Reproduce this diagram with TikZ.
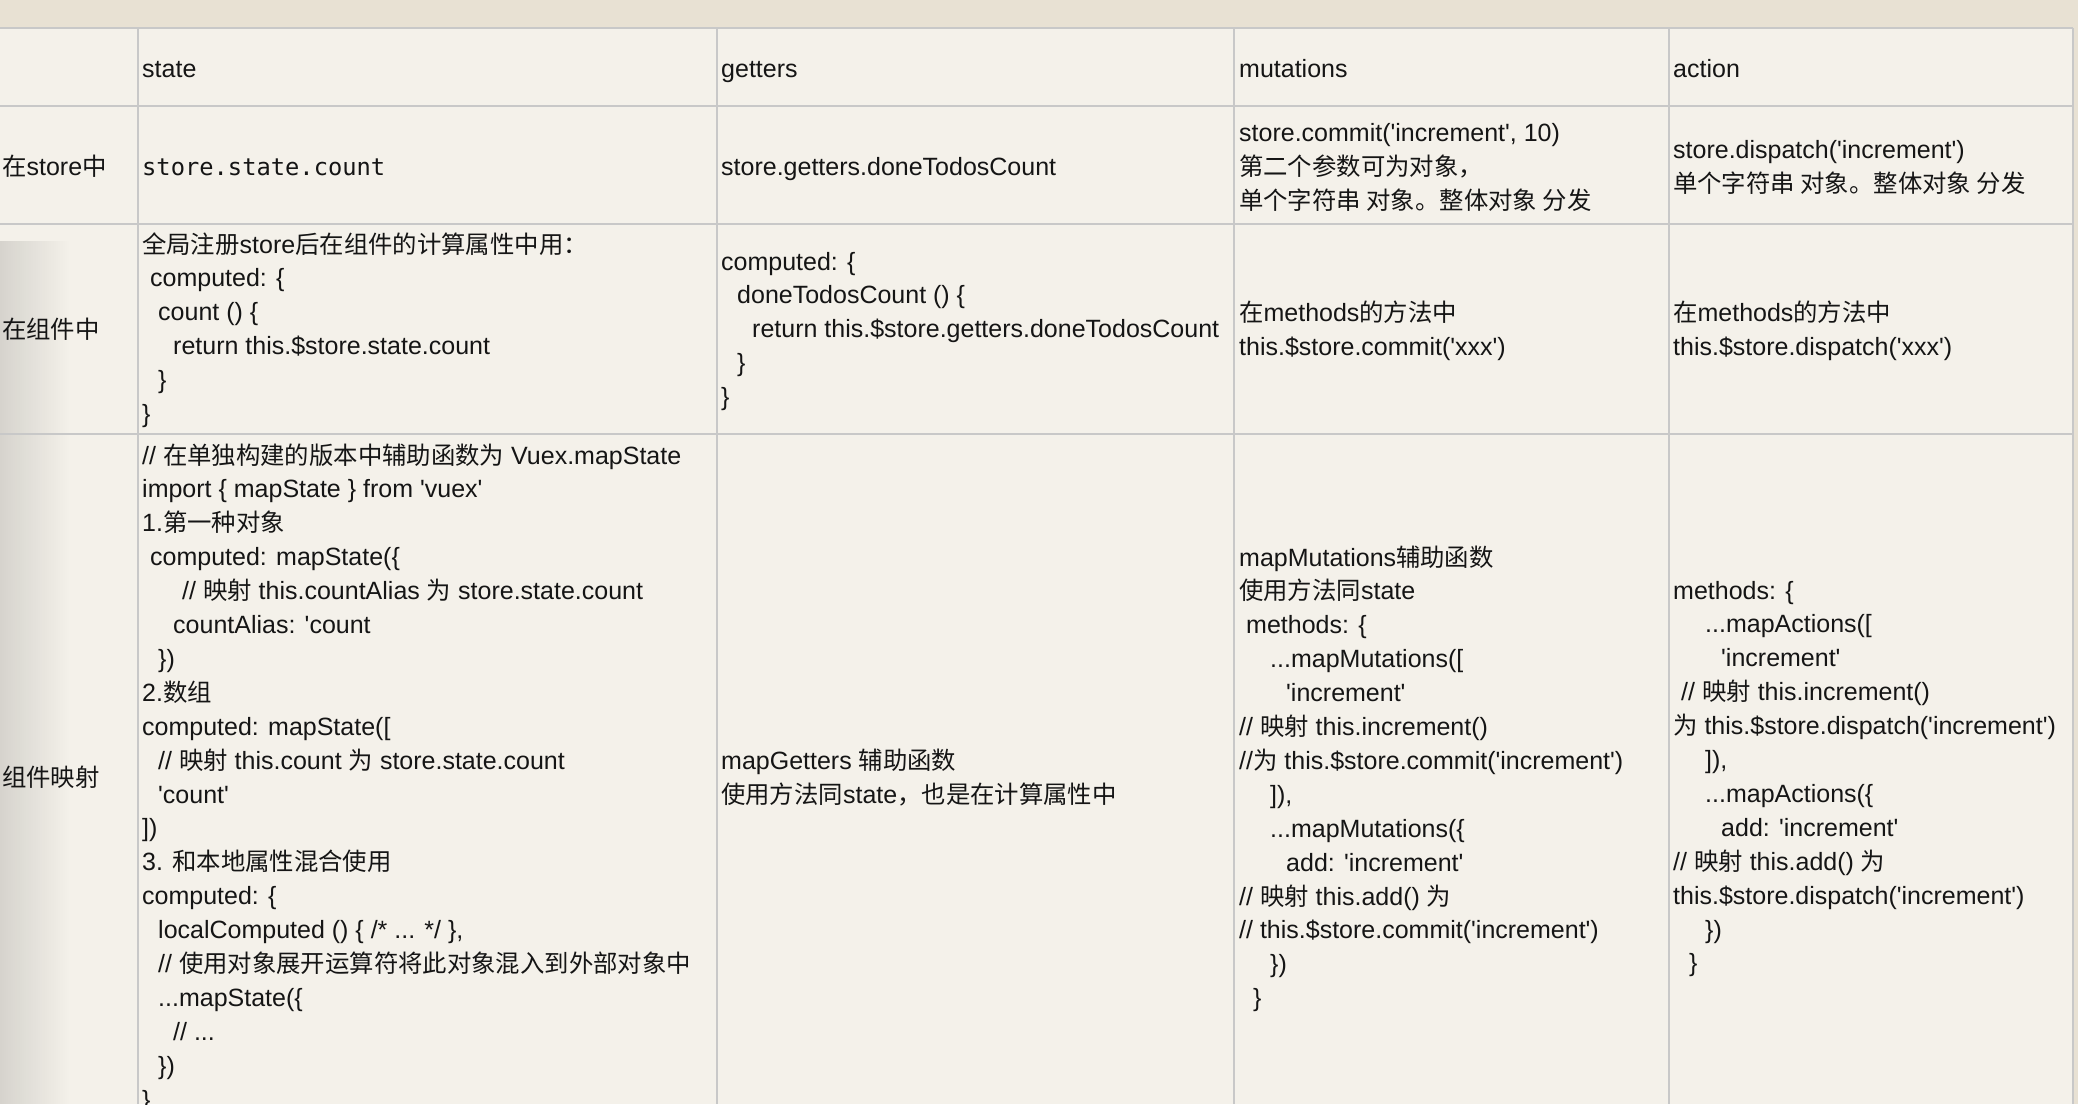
\documentclass[tikz,border=0pt]{standalone}
\usepackage{fontspec}
\setmainfont{Liberation Sans}[Ligatures=TeXOff]
\newfontfamily\cjk{Noto Sans CJK SC}[Scale=0.975]
\newfontfamily\mono{DejaVu Sans Mono}[Scale=0.95]
\usetikzlibrary{fadings}
\newcommand\zh[1]{{\cjk #1}}
\newcommand\hs[1]{\hspace*{#1pt}}
\definecolor{bandc}{HTML}{E8E1D3}
\definecolor{cellc}{HTML}{F4F1EA}
\definecolor{gridc}{HTML}{C8C8C8}
\definecolor{txtc}{HTML}{151515}
\tikzfading[name=fadeoutright, left color=transparent!0, right color=transparent!100]
\begin{document}
\begin{tikzpicture}[x=1pt,y=-1pt,
  cell/.style={anchor=base west, inner sep=0pt, align=left, text=txtc,
    font=\fontsize{25}{33.9}\selectfont},
  gridline/.style={draw=gridc, line width=2pt}]
\useasboundingbox (0,0) rectangle (2078,1104);
\fill[bandc] (0,0) rectangle (2078,1104);
\fill[cellc] (0,28) rectangle (2073,1104);
\fill[black, opacity=0.12, path fading=fadeoutright] (0,240) rectangle (70,1104);
% grid
\foreach \yy in {28,106,224,434} \draw[gridline] (0,\yy) -- (2073,\yy);
\foreach \xx in {138,717,1234,1669,2073} \draw[gridline] (\xx,28) -- (\xx,1104);
% header (anchors are at the baseline of the LAST line of each node)
\node[cell] (hs) at (142,77) {state};
\node[cell] (hg) at (721,77) {getters};
\node[cell] (hm) at (1239,77) {mutations};
\node[cell] (ha) at (1673,77) {action};
% row: in store
\node[cell] (l1) at (2,175) {\zh{在}store\zh{中}};
\node[cell] (s1) at (142,175) {\mono store.state.count};
\node[cell] (g1) at (721,175) {store.getters.doneTodosCount};
\node[cell] (m1) at (1239,209) {store.commit('increment', 10)\\
\zh{第二个参数可为对象，}\\
\zh{单个字符串 对象。整体对象 分发}};
\node[cell] (a1) at (1673,192) {store.dispatch('increment')\\
\zh{单个字符串 对象。整体对象 分发}};
% row: in component
\node[cell] (l2) at (2,338) {\zh{在组件中}};
\node[cell] (s2) at (142,422.5) {\zh{全局注册}store\zh{后在组件的计算属性中用：}\\
\hs{8}computed: \{\\
\hs{16}count () \{\\
\hs{31}return this.\$store.state.count\\
\hs{16}\}\\
\}};
\node[cell] (g2) at (721,405.6) {computed: \{\\
\hs{16}doneTodosCount () \{\\
\hs{31}return this.\$store.getters.doneTodosCount\\
\hs{16}\}\\
\}};
\node[cell] (m2) at (1239,355) {\zh{在}methods\zh{的方法中}\\
this.\$store.commit('xxx')};
\node[cell] (a2) at (1673,355) {\zh{在}methods\zh{的方法中}\\
this.\$store.dispatch('xxx')};
% row: mapping
\node[cell] (l3) at (2,786) {\zh{组件映射}};
\node[cell] (s3) at (142,1108.1) {// \zh{在单独构建的版本中辅助函数为} Vuex.mapState\\
import \{ mapState \} from 'vuex'\\
1.\zh{第一种对象}\\
\hs{8}computed: mapState(\{\\
\hs{40}// \zh{映射} this.countAlias \zh{为} store.state.count\\
\hs{31}countAlias: 'count\\
\hs{16}\})\\
2.\zh{数组}\\
computed: mapState([\\
\hs{16}// \zh{映射} this.count \zh{为} store.state.count\\
\hs{16}'count'\\
])\\
3. \zh{和本地属性混合使用}\\
computed: \{\\
\hs{16}localComputed () \{ /* ... */ \},\\
\hs{16}// \zh{使用对象展开运算符将此对象混入到外部对象中}\\
\hs{16}...mapState(\{\\
\hs{31}// ...\\
\hs{16}\})\\
\}};
\node[cell] (g3) at (721,803) {mapGetters \zh{辅助函数}\\
\zh{使用方法同}state\zh{，也是在计算属性中}};
\node[cell] (m3) at (1239,1006.7) {mapMutations\zh{辅助函数}\\
\zh{使用方法同}state\\
\hs{7}methods: \{\\
\hs{31}...mapMutations([\\
\hs{47}'increment'\\
// \zh{映射} this.increment()\\
//\zh{为} this.\$store.commit('increment')\\
\hs{31}]),\\
\hs{31}...mapMutations(\{\\
\hs{47}add: 'increment'\\
// \zh{映射} this.add() \zh{为}\\
// this.\$store.commit('increment')\\
\hs{31}\})\\
\hs{14}\}};
\node[cell] (a3) at (1673,971.9) {methods: \{\\
\hs{32}...mapActions([\\
\hs{48}'increment'\\
\hs{8}// \zh{映射} this.increment()\\
\zh{为} this.\$store.dispatch('increment')\\
\hs{32}]),\\
\hs{32}...mapActions(\{\\
\hs{48}add: 'increment'\\
// \zh{映射} this.add() \zh{为}\\
this.\$store.dispatch('increment')\\
\hs{32}\})\\
\hs{16}\}};
\end{tikzpicture}
\end{document}
